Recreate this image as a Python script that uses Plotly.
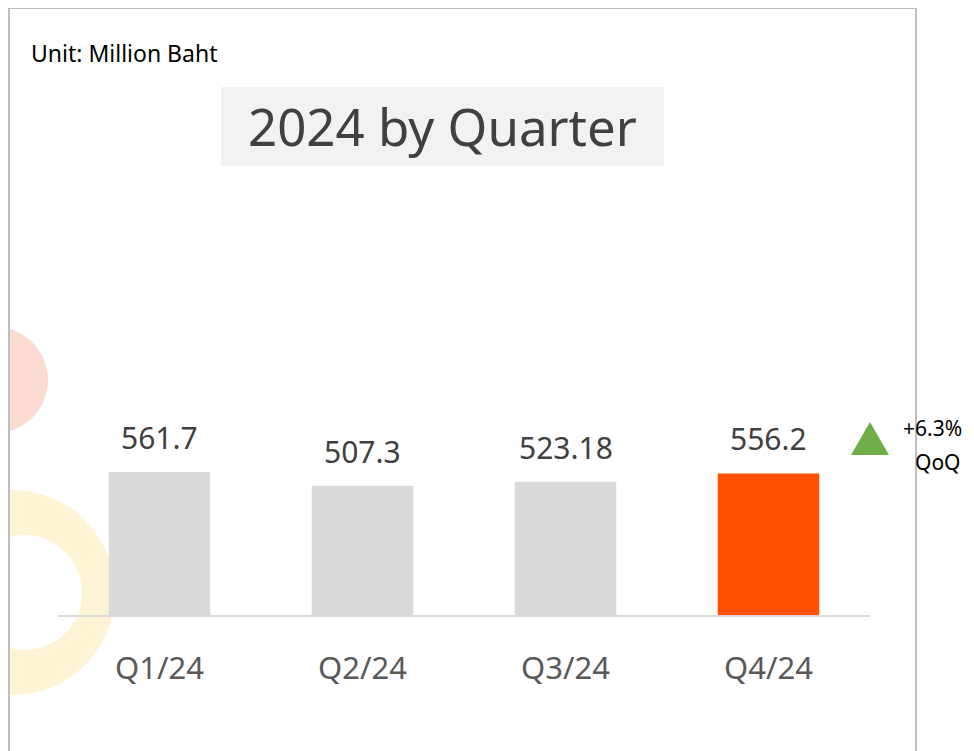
import plotly.graph_objects as go

categories = ["Q1/24", "Q2/24", "Q3/24", "Q4/24"]
values = [561.7, 507.3, 523.18, 556.2]
value_labels = ["561.7", "507.3", "523.18", "556.2"]
bar_colors = ["#d9d9d9", "#d9d9d9", "#d9d9d9", "#ff5100"]
title_text = "2024 by Quarter"
unit_text = "Unit: Million Baht"
change_text = "+6.3%"
change_period = "QoQ"

OFF = 8  # page body margin
W, H = 974 - OFF, 751 - OFF
# plot area in page pixels
PL, PR, PT, PB = 58, 870, 180, 615
L, R, T, B = PL - OFF, PR - OFF, PT - OFF, PB - OFF

def px(x):
    return (x - PL) / (PR - PL)

def py(y):
    return (PB - y) / (PB - PT)

FONT = "Noto Sans"

fig = go.Figure()
fig.add_trace(go.Bar(
    x=categories, y=values, marker=dict(color=bar_colors, line=dict(width=0)),
    hoverinfo="skip", showlegend=False,
))

shapes = []
# decorative circles
shapes.append(dict(type="circle", xref="paper", yref="paper", layer="below",
                   x0=px(-58), x1=px(48), y0=py(327), y1=py(433),
                   fillcolor="#fcdcd2", line=dict(width=0)))
shapes.append(dict(type="circle", xref="paper", yref="paper", layer="below",
                   x0=px(-90), x1=px(115), y0=py(490), y1=py(695),
                   fillcolor="#fff3d6", line=dict(width=0)))
shapes.append(dict(type="circle", xref="paper", yref="paper", layer="below",
                   x0=px(-33), x1=px(82), y0=py(535), y1=py(650),
                   fillcolor="#ffffff", line=dict(width=0)))
shapes.append(dict(type="circle", xref="paper", yref="paper", layer="below",
                   x0=px(-10), x1=px(8), y0=py(709), y1=py(727),
                   fillcolor="#fbe3dc", line=dict(width=0)))
# border
shapes.append(dict(type="rect", xref="paper", yref="paper", layer="below",
                   x0=px(9), x1=px(916), y0=py(8), y1=py(780),
                   fillcolor="rgba(0,0,0,0)", line=dict(color="#bfbfbf", width=2)))
# title box
shapes.append(dict(type="rect", xref="paper", yref="paper", layer="below",
                   x0=px(221), x1=px(664), y0=py(87), y1=py(166),
                   fillcolor="#f2f2f2", line=dict(width=0)))
# green triangle
shapes.append(dict(type="path", xref="paper", yref="paper",
                   path=f"M {px(870)} {py(422)} L {px(889)} {py(455)} L {px(851)} {py(455)} Z",
                   fillcolor="#70ad47", line=dict(width=0)))

annotations = []
for c, v, t in zip(categories, values, value_labels):
    annotations.append(dict(x=c, y=v, text=t, showarrow=False, yanchor="bottom",
                            yshift=12, font=dict(family=FONT, size=30, color="#404040")))
annotations.append(dict(xref="paper", yref="paper", x=px(442), y=py(126), text=title_text,
                        showarrow=False, xanchor="center", yanchor="middle",
                        font=dict(family=FONT, size=51, color="#404040")))
annotations.append(dict(xref="paper", yref="paper", x=px(29), y=py(53), text=unit_text,
                        showarrow=False, xanchor="left", yanchor="middle",
                        font=dict(family=FONT, size=23, color="#000000")))
annotations.append(dict(xref="paper", yref="paper", x=px(964), y=py(428), text=change_text,
                        showarrow=False, xanchor="right", yanchor="middle",
                        font=dict(family=FONT, size=21, color="#000000")))
annotations.append(dict(xref="paper", yref="paper", x=px(963), y=py(462), text=change_period,
                        showarrow=False, xanchor="right", yanchor="middle",
                        font=dict(family=FONT, size=21, color="#000000")))

fig.update_layout(
    width=W, height=H,
    margin=dict(l=L, r=W - R, t=T, b=H - B, pad=0),
    paper_bgcolor="#ffffff", plot_bgcolor="rgba(0,0,0,0)",
    bargap=0.5,
    shapes=shapes, annotations=annotations,
    xaxis=dict(showline=True, linecolor="#d9d9d9", linewidth=2, showgrid=False,
               zeroline=False, ticks="", ticklabelstandoff=25,
               tickfont=dict(family=FONT, size=31, color="#595959"), fixedrange=True),
    yaxis=dict(visible=False, range=[0, 1709], fixedrange=True),
    showlegend=False,
)

fig.write_html("out.html", config={"displayModeBar": False})
